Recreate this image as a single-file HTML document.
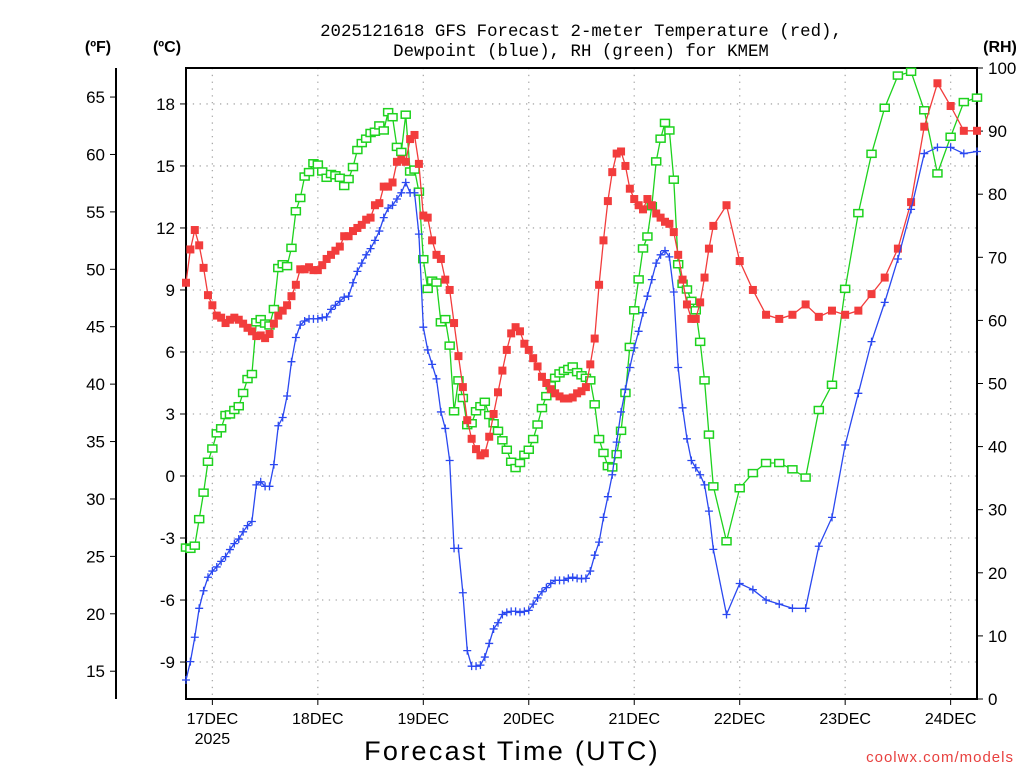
<!DOCTYPE html>
<html><head><meta charset="utf-8"><style>
html,body{margin:0;padding:0;background:#fff;}
svg{display:block;font-family:"Liberation Sans",sans-serif;}
</style></head><body>
<svg id="chart" width="1024" height="768" viewBox="0 0 1024 768" xmlns="http://www.w3.org/2000/svg">
<rect width="1024" height="768" fill="#fff"/>
<text x="581" y="36" font-size="17.4" font-family="Liberation Mono, monospace" text-anchor="middle" fill="#000">2025121618 GFS Forecast 2-meter Temperature (red),</text>
<text x="581" y="56" font-size="17.4" font-family="Liberation Mono, monospace" text-anchor="middle" fill="#000">Dewpoint (blue), RH (green) for KMEM</text>
<text x="98" y="52" font-size="16" font-weight="bold" text-anchor="middle">(ºF)</text>
<text x="167" y="52" font-size="16" font-weight="bold" text-anchor="middle">(ºC)</text>
<text x="1000" y="52" font-size="16" font-weight="bold" text-anchor="middle">(RH)</text>
<text x="512" y="760" font-size="27" text-anchor="middle" letter-spacing="2.3">Forecast Time (UTC)</text>
<text x="1014" y="762" font-size="15" text-anchor="end" fill="#e8413f" letter-spacing="1">coolwx.com/models</text>
<g id="grid"></g>
<g id="axes"></g>
<g id="series"></g>
</svg>
<script>
const hoursHourly=121;
const temps=[9.35,10.96,11.9,11.16,10.07,8.75,8.26,7.76,7.66,7.4,7.56,7.66,7.56,7.37,7.17,7.0,6.77,6.8,6.67,6.87,7.37,7.76,8.0,8.26,8.7,9.25,10.0,10.0,10.1,9.96,9.96,10.2,10.5,10.7,10.9,11.1,11.6,11.6,11.85,12.0,12.15,12.4,12.5,13.1,13.2,14.0,14.0,14.2,15.2,15.3,15.2,16.3,16.5,15.1,12.6,12.5,11.4,10.7,10.5,9.5,9.0,7.4,5.8,4.3,2.7,1.8,1.3,1.0,1.1,1.9,3.0,4.05,5.1,6.1,6.9,7.2,7.0,6.4,6.1,5.7,5.3,4.8,4.5,4.2,4.0,3.85,3.75,3.75,3.8,4.0,4.1,4.3,5.4,6.65,9.25,11.4,13.3,14.7,15.6,15.7,15.0,13.9,13.4,13.1,12.9,13.4,13.1,12.7,12.5,12.3,12.2,11.8,10.7,9.5,8.3,7.6,7.6,8.4,9.6,11.0,12.1,
13.1,10.4,9.0,7.8,7.6,7.8,8.3,7.7,8.0,7.8,8.0,8.8,9.6,11.0,13.25,16.9,19.0,17.9,16.7,16.7];
const dewpoints=[-9.87,-8.98,-7.8,-6.4,-5.55,-4.9,-4.6,-4.4,-4.13,-3.9,-3.56,-3.27,-3.05,-2.7,-2.4,-2.2,-0.43,-0.28,-0.5,-0.5,0.55,2.43,2.83,3.87,5.53,6.7,7.3,7.5,7.6,7.6,7.6,7.66,7.7,8.06,8.26,8.45,8.65,8.7,9.35,9.9,10.3,10.7,11.0,11.4,11.85,12.5,12.96,13.1,13.4,13.7,14.2,13.7,13.7,11.7,7.2,6.1,5.4,4.7,3.1,2.3,0.75,-3.5,-3.5,-5.65,-8.45,-9.2,-9.2,-9.15,-8.76,-8.1,-7.4,-7.1,-6.7,-6.6,-6.55,-6.55,-6.6,-6.55,-6.5,-6.2,-5.9,-5.6,-5.4,-5.2,-5.05,-5.05,-5.05,-4.95,-4.9,-4.95,-4.97,-4.95,-4.6,-3.83,-3.2,-2.0,-1.0,0.06,1.64,3.1,4.2,5.25,6.2,7.0,7.9,8.7,9.5,10.3,10.7,10.9,10.6,8.9,5.25,3.3,1.8,0.75,0.4,0.06,-0.43,-1.7,-3.55,
-6.7,-5.2,-5.5,-6.0,-6.2,-6.4,-6.4,-3.4,-2.0,1.5,4.0,6.5,8.4,10.5,12.9,15.6,15.9,15.9,15.6,15.7];
const rhValues=[24.0,23.8,24.3,28.5,32.7,37.6,39.7,42.1,42.9,45.0,45.1,45.8,46.4,48.5,50.7,51.5,59.7,60.2,59.5,59.2,61.8,68.3,68.9,68.6,71.5,77.3,79.4,82.8,83.5,84.9,84.7,83.6,82.6,83.2,83.0,82.6,81.3,82.4,84.3,87.0,88.1,88.8,89.7,89.9,90.9,90.1,93.0,92.2,87.5,86.7,92.6,83.6,83.9,80.4,69.7,65.0,66.3,66.0,59.7,60.2,56.0,45.6,50.5,47.7,43.4,43.7,45.6,46.4,47.1,45.0,43.7,42.5,41.0,39.5,37.6,36.6,37.4,38.7,39.5,41.2,43.5,46.1,48.0,49.7,50.9,51.6,52.0,52.3,52.7,51.8,51.3,50.9,50.5,46.7,41.2,39.0,36.9,36.7,38.8,42.5,48.5,55.8,61.6,66.5,71.4,73.3,78.1,85.2,88.8,91.3,90.1,82.3,68.9,65.8,64.9,63.1,61.6,56.6,50.5,41.9,33.7,
25.0,33.4,35.8,37.4,37.4,36.4,35.1,45.8,49.8,65.0,77.0,86.4,93.7,98.8,99.4,93.3,83.3,89.1,94.6,95.3];
const dayLabels=["17DEC","18DEC","19DEC","20DEC","21DEC","22DEC","23DEC","24DEC"];
const fTicks=[15,20,25,30,35,40,45,50,55,60,65];
const cTicks=[-9,-6,-3,0,3,6,9,12,15,18];
const rhTicks=[0,10,20,30,40,50,60,70,80,90,100];

const NS="http://www.w3.org/2000/svg";
const L=186,R=977,T=68,B=699;
function hourAt(i){return i<hoursHourly?i:120+3*(i-120);}
function xS(h){return L+h*(R-L)/180;}
function yC(c){return 476-c*20.67;}
function yF(f){return yC((f-32)*5/9);}
function yRH(r){return B-r*(B-T)/100;}
function mk(tag,attrs,parent){const e=document.createElementNS(NS,tag);for(const k in attrs)e.setAttribute(k,attrs[k]);parent.appendChild(e);return e;}
const grid=document.getElementById('grid'),axes=document.getElementById('axes'),ser=document.getElementById('series');

dayLabels.forEach((d,i)=>{
  const x=xS(6+24*i);
  const g=mk('line',{x1:x,x2:x,y1:T,y2:B,stroke:'#aaa','stroke-width':1.3,'stroke-dasharray':'1.3 5.5'},grid);
  
  
  const t=mk('text',{x:x,y:724,'font-size':16,'text-anchor':'middle'},axes);
  t.textContent=d;
  
  
  const tk=mk('line',{x1:x,x2:x,y1:B,y2:B+6,stroke:'#000','stroke-width':1},axes);
  
  
});
const yr=mk('text',{x:xS(6),y:744,'font-size':16,'text-anchor':'middle'},axes);
yr.textContent='2025';



cTicks.forEach(c=>{
  const y=yC(c);
  const g=mk('line',{x1:L,x2:R,y1:y,y2:y,stroke:'#aaa','stroke-width':1.3,'stroke-dasharray':'1.3 5.5'},grid);
  
  
  const tk=mk('line',{x1:L-6,x2:L,y1:y,y2:y,stroke:'#000'},axes);
  
  
  const t=mk('text',{x:L-11,y:y+6,'font-size':17,'text-anchor':'end'},axes);
  t.textContent=c;
  
  
});
const fa=mk('line',{x1:116,x2:116,y1:T,y2:B,stroke:'#000','stroke-width':2},axes);


fTicks.forEach(f=>{
  const y=yF(f);
  const tk=mk('line',{x1:110,x2:116,y1:y,y2:y,stroke:'#000'},axes);
  
  
  const t=mk('text',{x:105,y:y+6,'font-size':17,'text-anchor':'end'},axes);
  t.textContent=f;
  
  
});
rhTicks.forEach(r=>{
  const y=yRH(r);
  const tk=mk('line',{x1:R,x2:R+6,y1:y,y2:y,stroke:'#000'},axes);
  
  
  const t=mk('text',{x:R+11,y:y+6,'font-size':17,'text-anchor':'start'},axes);
  t.textContent=r;
  
  
});
const fr=mk('rect',{x:L,y:T,width:R-L,height:B-T,fill:'none',stroke:'#000','stroke-width':2},axes);



function series(vals,yf,color,marker,name){
  const g=mk('g',{},ser);
  
  
  const pts=vals.map((v,i)=>[xS(hourAt(i)),yf(v)]);
  mk('polyline',{points:pts.map(p=>p.join(',')).join(' '),fill:'none',stroke:color,'stroke-width':1.3},g);
  pts.forEach(p=>{
    let m;
    if(marker==='fill') m=mk('rect',{x:p[0]-4,y:p[1]-4,width:8,height:8,fill:color},g);
    else if(marker==='open') m=mk('rect',{x:p[0]-4.5,y:p[1]-3.5,width:9,height:7,fill:'#fff',stroke:color,'stroke-width':1.5},g);
    else m=mk('path',{d:`M${p[0]-4},${p[1]}h8M${p[0]},${p[1]-4}v8`,stroke:color,'stroke-width':1.3},g);
    
    
  });
}
series(rhValues,yRH,'#1ed21e','open','rh-series');
series(temps,yC,'#f23c3c','fill','temperature-series');
series(dewpoints,yC,'#2a48f0','plus','dewpoint-series');
</script>
</body></html>
